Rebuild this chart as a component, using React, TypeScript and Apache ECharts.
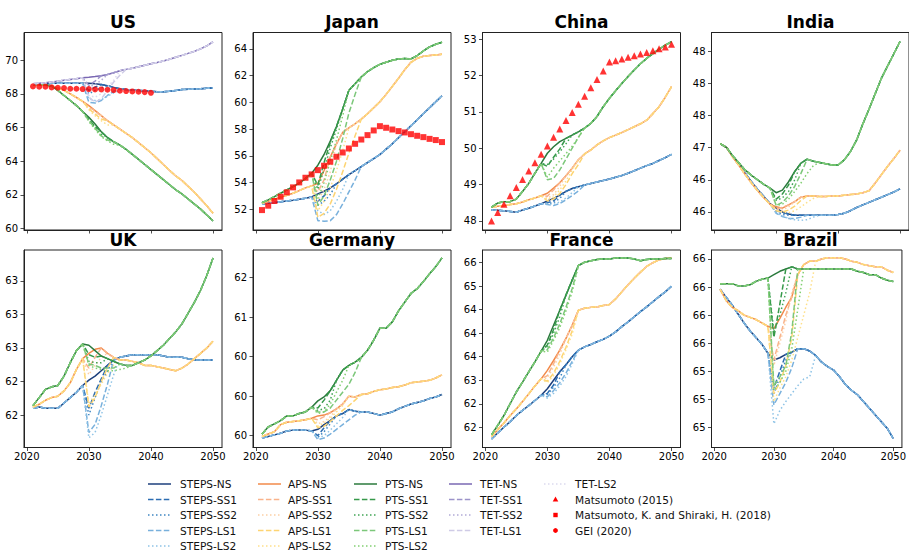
import { useEffect, useRef } from "react";
import * as echarts from "echarts";

// ---------------------------------------------------------------- data
const YEARS = [
  2021, 2022, 2023, 2024, 2025, 2026, 2027, 2028, 2029, 2030,
  2031, 2032, 2033, 2034, 2035, 2036, 2037, 2038, 2039, 2040,
  2041, 2042, 2043, 2044, 2045, 2046, 2047, 2048, 2049, 2050,
];
const X_TICKS = [2020, 2030, 2040, 2050];

// Shock scenarios leave the NS path in 2030 and rejoin it later:
// each array holds the values from 2030 until the year before it rejoins.

// US
const US_YTICKS = [60, 62, 64, 66, 68, 70];
const US_STEPS_NS = [68.55, 68.58, 68.6, 68.62, 68.63, 68.63, 68.62, 68.62, 68.62, 68.63, 68.6, 68.55, 68.48, 68.38, 68.3, 68.25, 68.22, 68.2, 68.18, 68.15, 68.12, 68.12, 68.15, 68.2, 68.25, 68.27, 68.28, 68.3, 68.33, 68.35];
const US_STEPS_DIPS = { SS1: [68.2, 68.4], SS2: [68.0, 68.2, 68.35], LS1: [67.5, 67.45, 67.6, 67.9, 68.15], LS2: [67.7, 67.6, 67.65, 67.85, 68.05, 68.2] };
const US_APS_NS = [68.5, 68.52, 68.5, 68.45, 68.35, 68.2, 68.0, 67.78, 67.55, 67.3, 67.0, 66.7, 66.4, 66.15, 65.9, 65.65, 65.4, 65.1, 64.8, 64.5, 64.15, 63.8, 63.45, 63.12, 62.85, 62.5, 62.15, 61.75, 61.35, 60.9];
const US_APS_DIPS = { SS1: [67.2], SS2: [67.15, 66.85], LS1: [67.1, 66.8, 66.5], LS2: [67.05, 66.7, 66.4, 66.15] };
const US_PTS_NS = [68.55, 68.57, 68.55, 68.45, 68.2, 67.9, 67.6, 67.3, 66.95, 66.6, 66.2, 65.75, 65.4, 65.15, 64.95, 64.7, 64.4, 64.1, 63.8, 63.5, 63.2, 62.9, 62.6, 62.3, 62.05, 61.75, 61.45, 61.15, 60.8, 60.45];
const US_PTS_DIPS = { SS1: [66.5, 66.05], SS2: [66.45, 66.0, 65.6], LS1: [66.4, 65.95, 65.5, 65.25], LS2: [66.35, 65.9, 65.45, 65.2, 65.0] };
const US_TET_NS = [68.6, 68.62, 68.65, 68.7, 68.75, 68.8, 68.85, 68.9, 68.95, 68.98, 69.02, 69.07, 69.15, 69.25, 69.37, 69.45, 69.52, 69.6, 69.69, 69.78, 69.86, 69.95, 70.05, 70.17, 70.28, 70.4, 70.52, 70.67, 70.85, 71.08];
const US_TET_DIPS = { SS1: [68.5, 68.75], SS2: [68.4, 68.55, 68.8], LS1: [67.8, 67.5, 67.7, 68.2, 68.7, 69.1], LS2: [67.9, 67.8, 68.0, 68.4, 68.8] };
const US_GEI_2020 = [68.44, 68.42, 68.42, 68.38, 68.36, 68.34, 68.3, 68.3, 68.28, 68.28, 68.26, 68.26, 68.24, 68.22, 68.18, 68.16, 68.14, 68.12, 68.1, 68.06];

// Japan
const JP_YTICKS = [52, 54, 56, 58, 60, 62, 64];
const JP_STEPS_NS = [52.39, 52.45, 52.5, 52.56, 52.62, 52.68, 52.75, 52.83, 52.92, 53.15, 53.35, 53.6, 53.9, 54.25, 54.6, 54.9, 55.2, 55.5, 55.8, 56.1, 56.5, 56.9, 57.35, 57.8, 58.25, 58.7, 59.15, 59.6, 60.05, 60.5];
const JP_STEPS_DIPS = { SS1: [52.6, 53.0], SS2: [52.3, 52.6, 53.1], LS1: [51.15, 51.1, 51.15, 51.6, 52.4, 53.3, 54.2], LS2: [51.9, 51.6, 51.9, 52.6, 53.5] };
const JP_APS_NS = [52.45, 52.6, 52.75, 52.9, 53.05, 53.2, 53.4, 53.6, 53.75, 53.95, 54.9, 55.9, 56.9, 57.75, 58.1, 58.4, 58.75, 59.15, 59.6, 60.05, 60.6, 61.2, 61.8, 62.45, 63.0, 63.3, 63.45, 63.5, 63.55, 63.6];
const JP_APS_DIPS = { SS1: [53.3, 54.2], SS2: [52.6, 53.5, 54.8], LS1: [51.4, 51.7, 52.4, 53.5, 54.8, 56.2, 57.5], LS2: [51.9, 52.6, 53.6, 54.9, 56.4] };
const JP_PTS_NS = [52.5, 52.7, 52.95, 53.2, 53.45, 53.7, 53.95, 54.3, 54.7, 55.3, 56.1, 57.1, 58.2, 59.5, 60.9, 61.4, 61.9, 62.3, 62.6, 62.85, 63.0, 63.15, 63.25, 63.28, 63.25, 63.5, 63.85, 64.15, 64.35, 64.5];
const JP_PTS_DIPS = { SS1: [53.8, 55.5, 57.0], SS2: [53.5, 55.0, 56.6, 58.0], LS1: [52.3, 53.0, 54.2, 55.6, 57.3, 59.2, 60.6], LS2: [52.8, 54.0, 55.6, 57.2, 59.0] };
const JP_MATSUMOTO_SHIRAKI_2018 = [51.94, 52.27, 52.62, 52.94, 53.27, 53.64, 54.01, 54.36, 54.61, 54.93, 55.26, 55.56, 55.93, 56.25, 56.55, 56.9, 57.22, 57.55, 57.9, 58.22, 58.1, 57.97, 57.85, 57.75, 57.62, 57.5, 57.4, 57.27, 57.18, 57.03];

// China
const CN_YTICKS = [48, 49, 50, 51, 52, 53];
const CN_STEPS_NS = [48.3, 48.29, 48.28, 48.26, 48.24, 48.3, 48.35, 48.41, 48.47, 48.55, 48.62, 48.71, 48.81, 48.89, 48.94, 48.99, 49.03, 49.07, 49.11, 49.15, 49.2, 49.25, 49.31, 49.38, 49.45, 49.52, 49.58, 49.66, 49.74, 49.83];
const CN_STEPS_DIPS = { SS1: [48.5, 48.55], SS2: [48.48, 48.5, 48.62], LS1: [48.45, 48.42, 48.48, 48.58, 48.7, 48.82], LS2: [48.47, 48.45, 48.52, 48.63, 48.78] };
const CN_APS_NS = [48.38, 48.4, 48.42, 48.45, 48.47, 48.52, 48.58, 48.63, 48.69, 48.76, 48.9, 49.05, 49.24, 49.45, 49.68, 49.84, 49.95, 50.09, 50.2, 50.29, 50.36, 50.43, 50.51, 50.59, 50.67, 50.77, 50.95, 51.14, 51.4, 51.69];
const CN_APS_DIPS = { SS1: [48.68, 48.85], SS2: [48.62, 48.72, 48.95], LS1: [48.55, 48.6, 48.75, 49.0, 49.3, 49.55], LS2: [48.58, 48.66, 48.85, 49.1, 49.4] };
const CN_PTS_NS = [48.38, 48.49, 48.53, 48.53, 48.6, 48.81, 49.03, 49.31, 49.58, 49.86, 50.04, 50.18, 50.27, 50.36, 50.45, 50.55, 50.68, 50.87, 51.14, 51.37, 51.58, 51.78, 51.97, 52.15, 52.32, 52.47, 52.6, 52.72, 52.83, 52.93];
const CN_PTS_DIPS = { SS1: [49.5, 49.75, 49.98], SS2: [49.55, 49.7, 49.9, 50.12], LS1: [49.13, 49.17, 49.4, 49.7, 50.0, 50.3], LS2: [49.2, 49.45, 49.65, 49.85, 50.05, 50.3] };
const CN_MATSUMOTO_2015 = [48.0, 48.23, 48.46, 48.69, 48.92, 49.14, 49.37, 49.6, 49.83, 50.06, 50.3, 50.53, 50.76, 50.98, 51.21, 51.43, 51.66, 51.89, 52.12, 52.37, 52.4, 52.45, 52.5, 52.54, 52.59, 52.63, 52.68, 52.73, 52.78, 52.86];

// India
const IN_YTICKS = [46, 46.5, 47, 47.5, 48, 48.5];
const IN_STEPS_NS = [47.06, 47.0, 46.86, 46.73, 46.6, 46.47, 46.35, 46.24, 46.13, 46.06, 46.0, 45.97, 45.95, 45.95, 45.95, 45.95, 45.95, 45.95, 45.95, 45.96, 45.98, 46.02, 46.07, 46.11, 46.15, 46.19, 46.23, 46.27, 46.31, 46.36];
const IN_STEPS_DIPS = { SS1: [46.02, 45.99], SS2: [46.0, 45.96, 45.95], LS1: [45.98, 45.93, 45.9, 45.9, 45.92], LS2: [45.99, 45.94, 45.9, 45.88, 45.87, 45.88, 45.92] };
const IN_APS_NS = [47.06, 47.0, 46.85, 46.72, 46.58, 46.45, 46.33, 46.22, 46.12, 46.08, 46.06, 46.11, 46.16, 46.23, 46.25, 46.25, 46.24, 46.24, 46.25, 46.25, 46.26, 46.27, 46.28, 46.3, 46.33, 46.45, 46.58, 46.71, 46.83, 46.96];
const IN_APS_DIPS = { SS1: [46.05, 46.07], SS2: [46.04, 46.03, 46.08], LS1: [46.02, 46.0, 46.03, 46.09, 46.18], LS2: [46.03, 46.0, 45.99, 46.02, 46.08, 46.15, 46.21] };
const IN_PTS_NS = [47.06, 47.0, 46.87, 46.76, 46.65, 46.57, 46.5, 46.43, 46.37, 46.3, 46.34, 46.47, 46.63, 46.76, 46.82, 46.79, 46.77, 46.75, 46.73, 46.73, 46.81, 46.94, 47.12, 47.37, 47.6, 47.84, 48.08, 48.27, 48.46, 48.65];
const IN_PTS_DIPS = { SS1: [46.2, 46.28, 46.42], SS2: [46.18, 46.22, 46.32, 46.5], LS1: [46.1, 46.15, 46.25, 46.4, 46.6], LS2: [46.1, 46.12, 46.2, 46.32, 46.45, 46.6, 46.72] };

// UK
const UK_YTICKS = [62.25, 62.5, 62.75, 63, 63.25];
const UK_STEPS_NS = [62.3, 62.31, 62.3, 62.3, 62.3, 62.34, 62.38, 62.42, 62.47, 62.51, 62.54, 62.58, 62.62, 62.66, 62.68, 62.69, 62.7, 62.7, 62.7, 62.7, 62.7, 62.69, 62.68, 62.68, 62.68, 62.67, 62.66, 62.66, 62.66, 62.66];
const UK_STEPS_DIPS = { SS1: [62.3, 62.42, 62.52], SS2: [62.25, 62.38, 62.5, 62.58], LS1: [62.12, 62.18, 62.32, 62.48], LS2: [62.08, 62.12, 62.25, 62.4, 62.55] };
const UK_APS_NS = [62.31, 62.33, 62.36, 62.38, 62.39, 62.43, 62.49, 62.59, 62.67, 62.71, 62.74, 62.75, 62.71, 62.68, 62.66, 62.66, 62.65, 62.64, 62.62, 62.62, 62.61, 62.6, 62.59, 62.58, 62.6, 62.63, 62.67, 62.71, 62.75, 62.8];
const UK_APS_DIPS = { SS1: [62.6, 62.68], SS2: [62.55, 62.62, 62.68], LS1: [62.31, 62.38, 62.5, 62.6], LS2: [62.33, 62.4, 62.48, 62.56, 62.62] };
const UK_PTS_NS = [62.32, 62.38, 62.44, 62.46, 62.47, 62.54, 62.64, 62.73, 62.78, 62.77, 62.73, 62.69, 62.67, 62.65, 62.63, 62.62, 62.62, 62.64, 62.66, 62.69, 62.73, 62.77, 62.82, 62.87, 62.93, 63.01, 63.09, 63.18, 63.29, 63.42];
const UK_PTS_DIPS = { SS1: [62.7, 62.68], SS2: [62.65, 62.64, 62.64], LS1: [62.63, 62.62, 62.6, 62.6, 62.6], LS2: [62.62, 62.6, 62.59, 62.58, 62.58, 62.59, 62.6] };

// Germany
const DE_YTICKS = [59.5, 60, 60.5, 61, 61.5];
const DE_STEPS_NS = [59.47, 59.49, 59.51, 59.53, 59.56, 59.57, 59.57, 59.57, 59.56, 59.58, 59.64, 59.69, 59.75, 59.78, 59.83, 59.81, 59.8, 59.8, 59.78, 59.76, 59.78, 59.8, 59.84, 59.87, 59.9, 59.92, 59.94, 59.97, 59.99, 60.02];
const DE_STEPS_DIPS = { SS1: [59.5, 59.6], SS2: [59.48, 59.55, 59.65], LS1: [59.45, 59.47, 59.52, 59.58, 59.64, 59.7, 59.76], LS2: [59.47, 59.5, 59.57, 59.65, 59.73] };
const DE_APS_NS = [59.49, 59.52, 59.55, 59.64, 59.67, 59.68, 59.69, 59.7, 59.72, 59.75, 59.76, 59.79, 59.84, 59.9, 60.0, 59.99, 60.02, 60.03, 60.06, 60.08, 60.09, 60.11, 60.12, 60.14, 60.17, 60.18, 60.19, 60.2, 60.23, 60.27];
const DE_APS_DIPS = { SS1: [59.7, 59.74], SS2: [59.65, 59.68, 59.74], LS1: [59.6, 59.62, 59.68, 59.75, 59.82, 59.88, 59.95], LS2: [59.62, 59.66, 59.72, 59.8, 59.88] };
const DE_PTS_NS = [59.52, 59.61, 59.65, 59.69, 59.75, 59.75, 59.78, 59.8, 59.86, 59.94, 59.99, 60.07, 60.2, 60.33, 60.39, 60.43, 60.49, 60.58, 60.71, 60.86, 60.86, 60.94, 61.08, 61.19, 61.3, 61.36, 61.45, 61.55, 61.64, 61.75];
const DE_PTS_DIPS = { SS1: [59.85, 59.95], SS2: [59.82, 59.84, 59.95], LS1: [59.8, 59.8, 59.85, 59.95, 60.05, 60.15, 60.3], LS2: [59.78, 59.8, 59.9, 60.05, 60.2] };

// France
const FR_YTICKS = [62, 62.5, 63, 63.5, 64, 64.5, 65, 65.5];
const FR_STEPS_NS = [61.75, 61.88, 62.0, 62.12, 62.25, 62.36, 62.46, 62.57, 62.68, 62.82, 63.0, 63.18, 63.33, 63.5, 63.64, 63.71, 63.76, 63.82, 63.87, 63.94, 64.03, 64.14, 64.24, 64.35, 64.46, 64.56, 64.67, 64.78, 64.88, 65.0];
const FR_STEPS_DIPS = { SS1: [62.72, 62.9], SS2: [62.7, 62.85, 63.05], LS1: [62.65, 62.78, 62.95, 63.15, 63.4], LS2: [62.62, 62.72, 62.88, 63.08, 63.35] };
const FR_APS_NS = [61.8, 61.95, 62.09, 62.25, 62.39, 62.55, 62.71, 62.88, 63.03, 63.21, 63.42, 63.64, 63.89, 64.17, 64.49, 64.53, 64.55, 64.56, 64.59, 64.61, 64.73, 64.88, 65.03, 65.17, 65.3, 65.42, 65.5, 65.56, 65.59, 65.6];
const FR_APS_DIPS = { SS1: [63.1, 63.35], SS2: [63.05, 63.28, 63.55], LS1: [62.98, 63.15, 63.4, 63.7, 64.05], LS2: [62.95, 63.1, 63.35, 63.65, 63.98] };
const FR_PTS_NS = [61.84, 62.04, 62.25, 62.5, 62.75, 62.96, 63.18, 63.39, 63.62, 63.85, 64.17, 64.49, 64.81, 65.13, 65.44, 65.51, 65.54, 65.57, 65.58, 65.58, 65.6, 65.6, 65.6, 65.58, 65.54, 65.57, 65.58, 65.58, 65.59, 65.59];
const FR_PTS_DIPS = { SS1: [63.75, 64.08], SS2: [63.72, 64.0, 64.35], LS1: [63.65, 63.9, 64.2, 64.55, 64.95], LS2: [63.6, 63.85, 64.12, 64.48, 64.88] };

// Brazil
const BR_YTICKS = [64.75, 65, 65.25, 65.5, 65.75, 66, 66.25];
const BR_STEPS_NS = [65.98, 65.91, 65.84, 65.76, 65.68, 65.61, 65.55, 65.49, 65.41, 65.35, 65.37, 65.4, 65.42, 65.45, 65.45, 65.43, 65.39, 65.33, 65.29, 65.26, 65.2, 65.13, 65.08, 65.04, 64.98, 64.92, 64.86, 64.8, 64.74, 64.65];
const BR_STEPS_DIPS = { SS1: [65.1, 65.25], SS2: [65.05, 65.2, 65.35], LS1: [64.95, 65.05, 65.15, 65.28], LS2: [64.78, 64.9, 64.98, 65.05, 65.12, 65.18, 65.2] };
const BR_APS_NS = [65.98, 65.88, 65.82, 65.79, 65.75, 65.73, 65.71, 65.68, 65.65, 65.63, 65.72, 65.82, 65.91, 66.11, 66.2, 66.23, 66.23, 66.25, 66.26, 66.26, 66.26, 66.25, 66.23, 66.22, 66.2, 66.19, 66.18, 66.18, 66.15, 66.13];
const BR_APS_DIPS = { SS1: [65.35, 65.55, 65.75], SS2: [65.3, 65.5, 65.7, 65.95], LS1: [65.05, 65.15, 65.3, 65.55], LS2: [64.98, 65.1, 65.2, 65.35, 65.55, 65.75, 65.95] };
const BR_PTS_NS = [66.03, 66.03, 66.03, 66.01, 66.01, 66.02, 66.05, 66.07, 66.08, 66.11, 66.14, 66.16, 66.18, 66.16, 66.16, 66.16, 66.16, 66.16, 66.16, 66.16, 66.16, 66.16, 66.16, 66.14, 66.13, 66.11, 66.11, 66.08, 66.06, 66.05];
const BR_PTS_DIPS = { SS1: [65.55, 65.85], SS2: [65.6, 65.75, 65.95], LS1: [65.12, 65.2, 65.3, 65.6], LS2: [65.08, 65.15, 65.25, 65.45, 65.8] };

// ---------------------------------------------------------------- styling
const VARIANTS = ["NS", "SS1", "SS2", "LS1", "LS2"] as const;
const COLORS: Record<string, string[]> = {
  STEPS: ["#1c3f7c", "#2c6db2", "#3f86c2", "#78b0dc", "#8ec3e6"],
  APS: ["#f28a4a", "#f9b38b", "#fcd0a5", "#fdd472", "#fee08b"],
  PTS: ["#2b7a3d", "#36994a", "#41a555", "#7cc77a", "#82cf72"],
  TET: ["#7a68b3", "#9c93c9", "#b1aad6", "#cfcbe6", "#dcdaee"],
};
const DASH: Record<string, any> = {
  NS: "solid",
  SS1: [5.5, 2.4],
  SS2: [1.5, 2.5],
  LS1: [5.5, 2.4],
  LS2: [1.5, 2.5],
};
const DASH_ARR: Record<string, number[] | null> = {
  NS: null,
  SS1: [5.5, 2.4],
  SS2: [1.5, 2.5],
  LS1: [5.5, 2.4],
  LS2: [1.5, 2.5],
};
const RED = "#ff0000";
const FONT = "DejaVu Sans";

const COL_LEFT = [24, 253, 482.5, 711.5];
const ROW_TOP = [32.5, 250];
const PANEL_W = 198;
const PANEL_H = 197.5;

type Group = [string, number[], Record<string, number[]>];
type Panel = {
  title: string;
  col: number;
  row: number;
  yMin: number;
  yMax: number;
  yTicks: number[];
  groups: Group[];
  ref?: { name: string; symbol: string; values: number[] };
};

const PANELS: Panel[] = [
  {
    title: "US", col: 0, row: 0, yMin: 59.91, yMax: 71.64, yTicks: US_YTICKS,
    groups: [["STEPS", US_STEPS_NS, US_STEPS_DIPS], ["APS", US_APS_NS, US_APS_DIPS], ["PTS", US_PTS_NS, US_PTS_DIPS], ["TET", US_TET_NS, US_TET_DIPS]],
    ref: { name: "GEI (2020)", symbol: "circle", values: US_GEI_2020 },
  },
  {
    title: "Japan", col: 1, row: 0, yMin: 50.45, yMax: 65.23, yTicks: JP_YTICKS,
    groups: [["STEPS", JP_STEPS_NS, JP_STEPS_DIPS], ["APS", JP_APS_NS, JP_APS_DIPS], ["PTS", JP_PTS_NS, JP_PTS_DIPS]],
    ref: { name: "Matsumoto, K. and Shiraki, H. (2018)", symbol: "rect", values: JP_MATSUMOTO_SHIRAKI_2018 },
  },
  {
    title: "China", col: 2, row: 0, yMin: 47.75, yMax: 53.18, yTicks: CN_YTICKS,
    groups: [["STEPS", CN_STEPS_NS, CN_STEPS_DIPS], ["APS", CN_APS_NS, CN_APS_DIPS], ["PTS", CN_PTS_NS, CN_PTS_DIPS]],
    ref: { name: "Matsumoto (2015)", symbol: "triangle", values: CN_MATSUMOTO_2015 },
  },
  {
    title: "India", col: 3, row: 0, yMin: 45.72, yMax: 48.79, yTicks: IN_YTICKS,
    groups: [["STEPS", IN_STEPS_NS, IN_STEPS_DIPS], ["APS", IN_APS_NS, IN_APS_DIPS], ["PTS", IN_PTS_NS, IN_PTS_DIPS]],
  },
  {
    title: "UK", col: 0, row: 1, yMin: 62.008, yMax: 63.48, yTicks: UK_YTICKS,
    groups: [["STEPS", UK_STEPS_NS, UK_STEPS_DIPS], ["APS", UK_APS_NS, UK_APS_DIPS], ["PTS", UK_PTS_NS, UK_PTS_DIPS]],
  },
  {
    title: "Germany", col: 1, row: 1, yMin: 59.35, yMax: 61.85, yTicks: DE_YTICKS,
    groups: [["STEPS", DE_STEPS_NS, DE_STEPS_DIPS], ["APS", DE_APS_NS, DE_APS_DIPS], ["PTS", DE_PTS_NS, DE_PTS_DIPS]],
  },
  {
    title: "France", col: 2, row: 1, yMin: 61.57, yMax: 65.77, yTicks: FR_YTICKS,
    groups: [["STEPS", FR_STEPS_NS, FR_STEPS_DIPS], ["APS", FR_APS_NS, FR_APS_DIPS], ["PTS", FR_PTS_NS, FR_PTS_DIPS]],
  },
  {
    title: "Brazil", col: 3, row: 1, yMin: 64.57, yMax: 66.33, yTicks: BR_YTICKS,
    groups: [["STEPS", BR_STEPS_NS, BR_STEPS_DIPS], ["APS", BR_APS_NS, BR_APS_DIPS], ["PTS", BR_PTS_NS, BR_PTS_DIPS]],
  },
];

// tick labels are printed with zero decimals, halves rounded to even
function tickLabel(v: number): string {
  const f = Math.floor(v);
  if (Math.abs(v - f - 0.5) < 1e-9) return String(f % 2 === 0 ? f : f + 1);
  return String(Math.round(v));
}

function scenarioPath(ns: number[], dip: number[] | undefined) {
  return YEARS.map((y, i) => {
    const k = y - 2030;
    return [y, dip && k >= 0 && k < dip.length ? dip[k] : ns[i]];
  });
}

function buildOption() {
  const grid: any[] = [];
  const xAxis: any[] = [];
  const yAxis: any[] = [];
  const series: any[] = [];
  const graphic: any[] = [];

  PANELS.forEach((p, idx) => {
    const left = COL_LEFT[p.col];
    const top = ROW_TOP[p.row];
    grid.push({
      left, top, width: PANEL_W, height: PANEL_H,
      show: true, borderColor: "#222", borderWidth: 1, backgroundColor: "transparent",
    });
    xAxis.push({
      type: "value", gridIndex: idx, min: 2019.55, max: 2051.45,
      axisLine: { show: true, onZero: false, lineStyle: { color: "#222", width: 1 } },
      axisTick: { show: true, length: 3.5, customValues: X_TICKS, lineStyle: { color: "#222", width: 0.8 } },
      axisLabel: {
        show: p.row === 1, customValues: X_TICKS, fontSize: 10, fontFamily: FONT,
        color: "#000", margin: 4,
        formatter: (v: number) => String(Math.round(v)),
      },
      splitLine: { show: false },
    });
    yAxis.push({
      type: "value", gridIndex: idx, min: p.yMin, max: p.yMax,
      axisLine: { show: true, onZero: false, lineStyle: { color: "#222", width: 1 } },
      axisTick: { show: true, length: 3.5, customValues: p.yTicks, lineStyle: { color: "#222", width: 0.8 } },
      axisLabel: {
        customValues: p.yTicks, fontSize: 10, fontFamily: FONT, color: "#000", margin: 6,
        formatter: (v: number) => tickLabel(v),
      },
      splitLine: { show: false },
    });

    p.groups.forEach(([g, ns, dips]) => {
      VARIANTS.forEach((v, vi) => {
        series.push({
          name: `${g}-${v}`,
          type: "line",
          xAxisIndex: idx,
          yAxisIndex: idx,
          data: v === "NS" ? scenarioPath(ns, undefined) : scenarioPath(ns, dips[v]),
          symbol: "none",
          showSymbol: false,
          silent: true,
          lineStyle: { color: COLORS[g][vi], width: 1.5, type: DASH[v] },
          emphasis: { disabled: true },
        });
      });
    });

    if (p.ref) {
      series.push({
        name: p.ref.name,
        type: "scatter",
        xAxisIndex: idx,
        yAxisIndex: idx,
        symbol: p.ref.symbol,
        symbolSize: p.ref.symbol === "triangle" ? 7 : 6,
        data: p.ref.values.map((val, i) => [YEARS[i], val]),
        itemStyle: { color: RED },
        silent: true,
        z: 5,
      });
    }

    graphic.push({
      type: "text",
      x: left + PANEL_W / 2,
      y: top - 10.5,
      style: {
        text: p.title,
        fill: "#000",
        font: `bold 17px "${FONT}"`,
        textAlign: "center",
        textVerticalAlign: "middle",
        align: "center",
        verticalAlign: "middle",
      },
    });
  });

  // legend block
  const rowsY = [484, 499.5, 515, 530.5, 546];
  const cols = [
    { hx: 148, tx: 180 },
    { hx: 258, tx: 288 },
    { hx: 354, tx: 385 },
    { hx: 449, tx: 480 },
    { hx: 544, tx: 575 },
  ];
  type Entry = { label: string; group?: string; variant?: string; marker?: string };
  const entries: Entry[][] = [
    VARIANTS.map((v) => ({ label: `STEPS-${v}`, group: "STEPS", variant: v })),
    VARIANTS.map((v) => ({ label: `APS-${v}`, group: "APS", variant: v })),
    VARIANTS.map((v) => ({ label: `PTS-${v}`, group: "PTS", variant: v })),
    ["NS", "SS1", "SS2", "LS1"].map((v) => ({ label: `TET-${v}`, group: "TET", variant: v })),
    [
      { label: "TET-LS2", group: "TET", variant: "LS2" },
      { label: "Matsumoto (2015)", marker: "triangle" },
      { label: "Matsumoto, K. and Shiraki, H. (2018)", marker: "rect" },
      { label: "GEI (2020)", marker: "circle" },
    ],
  ];
  entries.forEach((col, ci) => {
    col.forEach((e, ri) => {
      const y = rowsY[ri];
      const { hx, tx } = cols[ci];
      if (e.group && e.variant) {
        const vi = VARIANTS.indexOf(e.variant as any);
        graphic.push({
          type: "line",
          shape: { x1: hx, y1: y, x2: hx + 23, y2: y },
          style: {
            stroke: COLORS[e.group][vi],
            lineWidth: 1.5,
            lineDash: DASH_ARR[e.variant] || undefined,
          },
        });
      } else if (e.marker === "triangle") {
        graphic.push({
          type: "polygon",
          shape: { points: [[hx + 11.5, y - 3], [hx + 8.7, y + 2], [hx + 14.3, y + 2]] },
          style: { fill: RED },
        });
      } else if (e.marker === "rect") {
        graphic.push({
          type: "rect",
          shape: { x: hx + 9.3, y: y - 2.2, width: 4.4, height: 4.4 },
          style: { fill: RED },
        });
      } else if (e.marker === "circle") {
        graphic.push({
          type: "circle",
          shape: { cx: hx + 11.5, cy: y, r: 2.4 },
          style: { fill: RED },
        });
      }
      graphic.push({
        type: "text",
        x: tx,
        y,
        style: {
          text: e.label,
          fill: "#111",
          font: `10.6px "${FONT}"`,
          textAlign: "left",
          textVerticalAlign: "middle",
          align: "left",
          verticalAlign: "middle",
        },
      });
    });
  });

  return {
    animation: false,
    backgroundColor: "#ffffff",
    grid,
    xAxis,
    yAxis,
    series,
    graphic,
  };
}

export default function App() {
  const ref = useRef<HTMLDivElement>(null);
  useEffect(() => {
    if (!ref.current) return;
    const chart = echarts.init(ref.current, undefined, { renderer: "svg" });
    chart.setOption(buildOption() as any);
    return () => chart.dispose();
  }, []);
  return (
    <div
      ref={ref}
      style={{ position: "fixed", left: 0, top: 0, width: 909, height: 551, background: "#fff" }}
    />
  );
}
